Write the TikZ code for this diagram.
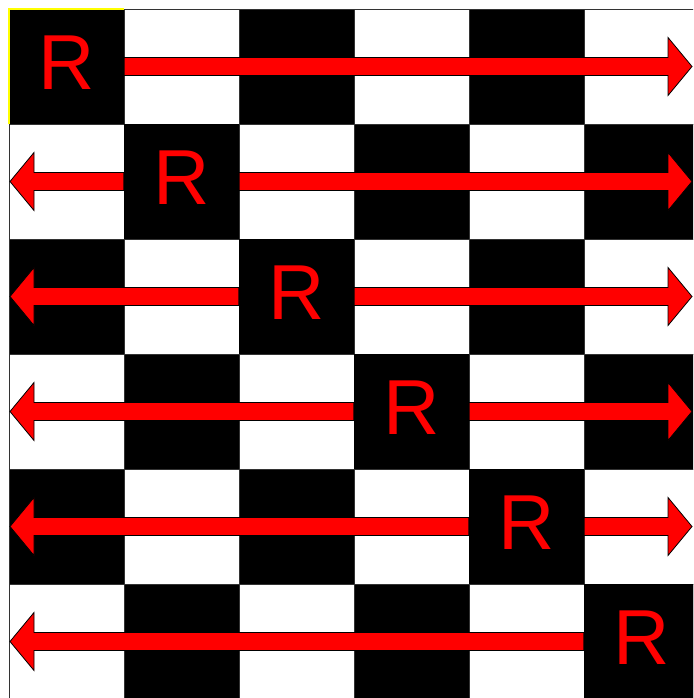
\documentclass[tikz,border=0pt]{standalone}
\usepackage{fontspec}
\setmainfont{Liberation Sans}
\usetikzlibrary{calc}
\definecolor{rookred}{HTML}{FF0000}
\definecolor{edgeyellow}{HTML}{FFFF00}

% fat outlined arrow from #1 to #2 (shaft 18, head 58 wide, 24 long)
\newcommand\fatarrow[2]{%
  \coordinate (h) at ($(#2)!24pt!(#1)$);
  \filldraw[arrowbody] ($(#1)!9pt!90:(#2)$) -- ($(h)!9pt!90:(#2)$)
    -- ($(h)!29pt!90:(#2)$) -- (#2) -- ($(h)!29pt!-90:(#2)$)
    -- ($(h)!9pt!-90:(#2)$) -- ($(#1)!9pt!-90:(#2)$) -- cycle;}

\begin{document}
\begin{tikzpicture}[x=1pt, y=-1pt,
  rookcell/.style={fill=black, minimum size=115pt, inner sep=0pt, text depth=8pt,
    text=rookred, font=\fontsize{78}{78}\selectfont},
  arrowbody/.style={fill=rookred, draw=black, line width=0.8pt, line join=miter}]
\useasboundingbox (0,0) rectangle (693,698);
\clip (0,0) rectangle (693,698);
% === Board ===
\foreach \r in {0,...,5} {
  \foreach \c in {0,...,5} {
    \pgfmathparse{int(mod(\r+\c,2))}
    \ifnum\pgfmathresult=0
      \fill[black] (9+115*\c, 9+115*\r) rectangle ++(115,115);
    \fi
    \draw[black!80, line width=0.8pt] (9+115*\c, 9+115*\r) rectangle ++(115,115);
  }
}

% === Rooks on the diagonal ===
\foreach \k in {0,...,5} {
  \node[rookcell] (r\k) at (66.5+115*\k, 66.5+115*\k) {R};
  \coordinate (w\k) at (10, 66.5+115*\k);
  \coordinate (e\k) at (692, 66.5+115*\k);
}
\draw[edgeyellow, line width=1.5pt] (r0.south west) -- (r0.north west) -- (r0.north east);

% Arrows
\foreach \k in {0,...,4} \fatarrow{r\k.east}{e\k};
\foreach \k in {1,...,5} \fatarrow{r\k.west}{w\k};
\end{tikzpicture}
\end{document}
